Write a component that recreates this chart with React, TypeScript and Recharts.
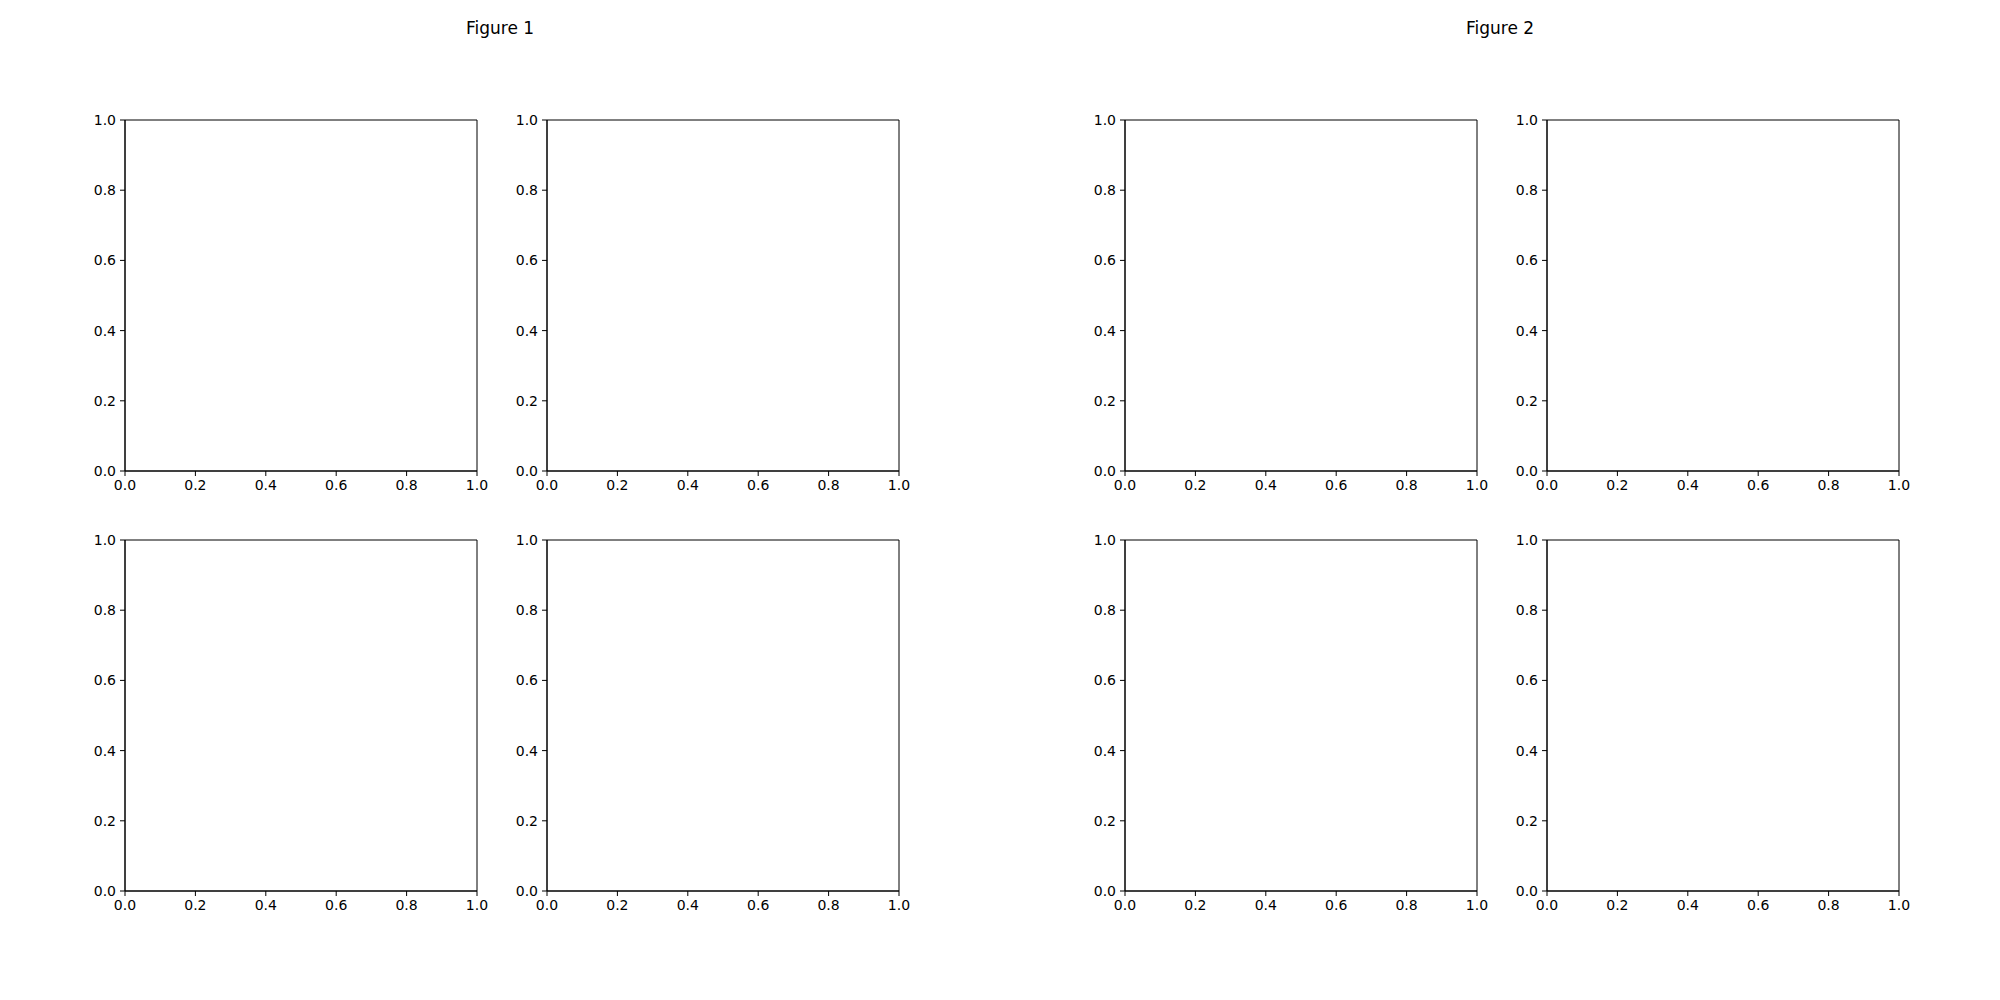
import { ScatterChart, Scatter, XAxis, YAxis, ReferenceArea } from 'recharts';

// two figures, each a 2x2 grid of empty axes
const figureTitles = ['Figure 1', 'Figure 2'];
const gridRows = [0, 1];
const gridCols = [0, 1];
const axisDomain = [0, 1];
const axisTicks = [0, 0.2, 0.4, 0.6, 0.8, 1.0];
const emptySeries: { x: number; y: number }[] = [];

const FONT = '"DejaVu Sans", sans-serif';
const PLOT_W = 352;
const PLOT_H = 351;
const Y_AXIS_W = 60;
const X_AXIS_H = 30;
const MARGIN = { top: 10, right: 24, left: 0, bottom: 0 };

// plot-area offsets within a 1000x1000 figure
const colLeft = [125, 547];
const rowTop = [120, 540];

const fmt = (v: number) => v.toFixed(1);

function Panel({ left, top }: { left: number; top: number }) {
  const width = PLOT_W + Y_AXIS_W + MARGIN.left + MARGIN.right;
  const height = PLOT_H + X_AXIS_H + MARGIN.top + MARGIN.bottom;
  const tick = { fill: '#000', fontSize: 14, fontFamily: FONT };
  return (
    <div style={{ position: 'absolute', left: left - Y_AXIS_W - MARGIN.left, top: top - MARGIN.top }}>
      <ScatterChart width={width} height={height} margin={MARGIN}>
        <XAxis
          type="number"
          dataKey="x"
          domain={axisDomain}
          ticks={axisTicks}
          tickFormatter={fmt}
          tick={tick}
          tickSize={5}
          tickMargin={4}
          height={X_AXIS_H}
          stroke="#000"
          interval={0}
          allowDataOverflow
        />
        <YAxis
          type="number"
          dataKey="y"
          domain={axisDomain}
          ticks={axisTicks}
          tickFormatter={fmt}
          tick={tick}
          tickSize={5}
          tickMargin={4}
          width={Y_AXIS_W}
          stroke="#000"
          interval={0}
          allowDataOverflow
        />
        <ReferenceArea
          x1={0}
          x2={1}
          y1={0}
          y2={1}
          fill="none"
          stroke="#000"
          strokeWidth={1}
          ifOverflow="visible"
        />
        <Scatter data={emptySeries} fill="#1f77b4" isAnimationActive={false} />
      </ScatterChart>
    </div>
  );
}

export default function App() {
  return (
    <div
      style={{
        position: 'absolute',
        left: 0,
        top: 0,
        width: 2000,
        height: 1000,
        background: '#fff',
        fontFamily: FONT,
      }}
    >
      {figureTitles.map((title, f) => (
        <div key={title}>
          <div
            style={{
              position: 'absolute',
              left: f * 1000,
              top: 18,
              width: 1000,
              textAlign: 'center',
              fontSize: 17,
              color: '#000',
            }}
          >
            {title}
          </div>
          {gridRows.map((r) =>
            gridCols.map((c) => (
              <Panel key={`${f}-${r}-${c}`} left={f * 1000 + colLeft[c]} top={rowTop[r]} />
            )),
          )}
        </div>
      ))}
    </div>
  );
}
